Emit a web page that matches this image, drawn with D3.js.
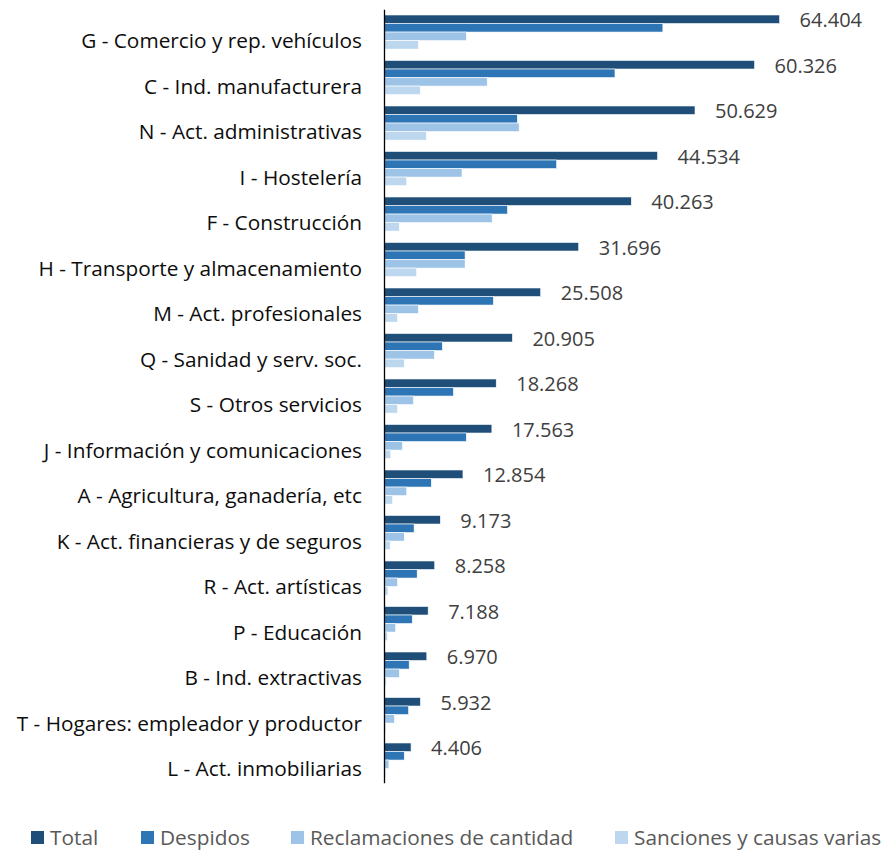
<!DOCTYPE html>
<html>
<head>
<meta charset="utf-8">
<script src="https://cdn.jsdelivr.net/npm/d3@7"></script>
<style>
  body { margin: 0; background: #fff; }
  svg { font-family: "Open Sans", sans-serif; }
</style>
</head>
<body>
<svg id="chart" width="885" height="851"></svg>
<script>
// categories, top to bottom
const categories = [
  "G - Comercio y rep. vehículos",
  "C - Ind. manufacturera",
  "N - Act. administrativas",
  "I - Hostelería",
  "F - Construcción",
  "H - Transporte y almacenamiento",
  "M - Act. profesionales",
  "Q - Sanidad y serv. soc.",
  "S - Otros servicios",
  "J - Información y comunicaciones",
  "A - Agricultura, ganadería, etc",
  "K - Act. financieras y de seguros",
  "R - Act. artísticas",
  "P - Educación",
  "B - Ind. extractivas",
  "T - Hogares: empleador y productor",
  "L - Act. inmobiliarias"
];

const seriesNames = ["Total", "Despidos", "Reclamaciones de cantidad", "Sanciones y causas varias"];
const seriesColors = ["#1f4e79", "#2e75b6", "#9dc3e6", "#bdd7ee"];

// values (Total is labelled, the rest)
const total = [64404, 60326, 50629, 44534, 40263, 31696, 25508, 20905, 18268, 17563, 12854, 9173, 8258, 7188, 6970, 5932, 4406];
const despidos = [45400, 37600, 21700, 28100, 20100, 13200, 17800, 9500, 11300, 13400, 7700, 4900, 5400, 4600, 4100, 4000, 3300];
const reclamaciones = [13400, 16800, 22000, 12700, 17600, 13200, 5600, 8200, 4800, 3000, 3700, 3300, 2200, 1900, 2500, 1700, 800];
const sanciones = [5600, 5900, 6900, 3700, 2500, 5300, 2200, 3300, 2200, 1100, 1400, 1000, 650, 600, 350, 300, 300];

const seriesValues = [total, despidos, reclamaciones, sanciones];

const svg = d3.select("#chart");
const axisX = 384;

const x = d3.scaleLinear().domain([0, 70000]).range([axisX, axisX + 430]);

const y = d3.scaleBand()
  .domain(categories)
  .range([9.3, 782.8])
  .paddingInner(0.25)
  .paddingOuter(0.125);

const ySub = d3.scaleBand()
  .domain(seriesNames)
  .range([0, y.bandwidth()]);

// bars
const rows = categories.map((c, i) => ({
  cat: c,
  vals: seriesNames.map((s, j) => ({ series: s, j: j, value: seriesValues[j][i] }))
}));

const group = svg.append("g")
  .selectAll("g")
  .data(rows)
  .enter()
  .append("g")
  .attr("transform", (d) => `translate(0,${y(d.cat)})`);

group.selectAll("rect")
  .data((d) => d.vals)
  .enter()
  .append("rect")
  .attr("x", x(0))
  .attr("y", (d) => ySub(d.series))
  .attr("width", (d) => x(d.value) - x(0))
  .attr("height", ySub.bandwidth())
  .attr("fill", (d) => seriesColors[d.j])
  .attr("stroke", "#ffffff")
  .attr("stroke-width", 0.6);

// value labels for Total
group.append("text")
  .attr("x", (d) => x(d.vals[0].value) + 20)
  .attr("y", ySub("Total") + ySub.bandwidth() / 2)
  .attr("dy", "0.4em")
  .attr("font-size", 20)
  .attr("fill", "#404040")
  .text((d) => d3.format(",")(d.vals[0].value).replace(/,/g, "."));

// category axis
const yAxis = d3.axisLeft(y).tickSize(0).tickPadding(22);
const gAxis = svg.append("g")
  .attr("transform", `translate(${axisX},0)`)
  .call(yAxis);
gAxis.select(".domain").attr("stroke", "#000").attr("stroke-width", 1.3);
gAxis.selectAll("text")
  .attr("font-family", "Open Sans, sans-serif")
  .attr("font-size", 20.8)
  .attr("fill", "#0d0d0d")
  .attr("dy", "0.78em");

// legend
const legendX = [31, 141, 291, 615];
const legend = svg.append("g")
  .selectAll("g")
  .data(seriesNames)
  .enter()
  .append("g")
  .attr("transform", (d, i) => `translate(${legendX[i]},831)`);
legend.append("rect")
  .attr("width", 13)
  .attr("height", 13)
  .attr("fill", (d, i) => seriesColors[i]);
legend.append("text")
  .attr("x", 19)
  .attr("y", 6.5)
  .attr("dy", "0.36em")
  .attr("font-size", 20.8)
  .attr("fill", "#595959")
  .text((d) => d);
</script>
</body>
</html>
